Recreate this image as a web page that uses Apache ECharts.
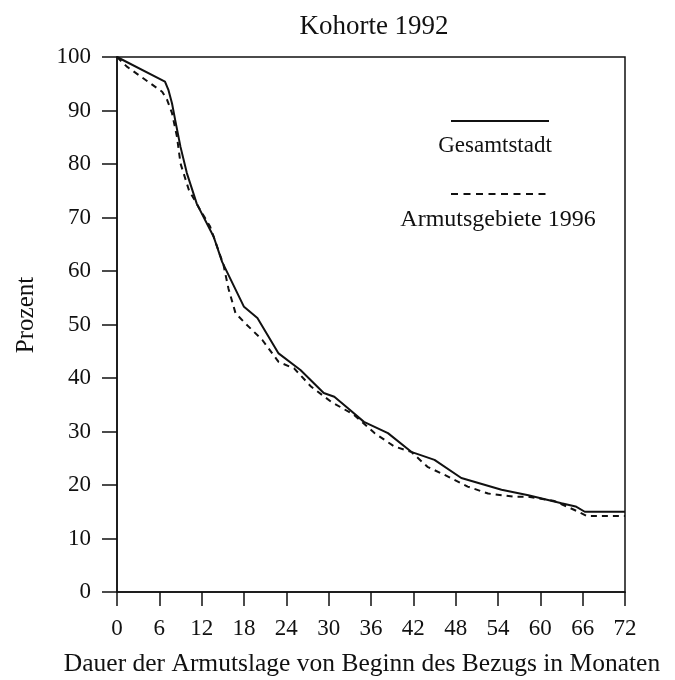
<!DOCTYPE html>
<html>
<head>
<meta charset="utf-8">
<script src="https://cdn.jsdelivr.net/npm/echarts@6/dist/echarts.min.js"></script>
<style>
  html, body { margin: 0; padding: 0; background: #fff; }
  #chart { width: 675px; height: 680px; }
</style>
</head>
<body>
<div id="chart"></div>
<script>
// Gesamtstadt (durchgezogen)
const gesamtMonate = [0, 6.8, 7.3, 7.8, 8.25, 9, 9.9, 11.3, 13.7, 14.9, 18, 19.9, 22.9, 26, 29.3, 30.8, 32.7, 35, 38.4, 41.7, 45, 48.8, 54.5, 58.3, 63, 65, 66.3, 72]
const gesamtWerte = [100, 95.4, 93.8, 91.3, 88.2, 83.2, 78.3, 72.6, 66.4, 61.7, 53.3, 51.2, 44.6, 41.5, 37.2, 36.5, 34.4, 31.8, 29.7, 26.2, 24.7, 21.3, 19.1, 18.1, 16.6, 16, 15, 15]
// Armutsgebiete 1996 (gestrichelt)
const armutMonate = [0, 1.4, 6.4, 7.1, 7.8, 8.5, 9, 10.2, 11.8, 13.2, 15.1, 15.8, 16.8, 18.2, 20.6, 22.9, 25.1, 27.5, 30.3, 33.6, 36.5, 39.3, 41.7, 44, 46.4, 49.7, 52.6, 56.4, 58.3, 62, 65.4, 66.6, 72]
const armutWerte = [100, 98.2, 93.5, 92, 89.5, 85.1, 80.1, 75.1, 71.4, 68.3, 61.1, 56.7, 52.1, 50.2, 47.1, 43, 41.8, 38.4, 35.6, 33.1, 29.7, 27.2, 26.2, 23.4, 21.9, 19.7, 18.4, 17.8, 17.8, 17, 15, 14.2, 14.2]

const font = '"Liberation Serif", "DejaVu Serif", serif'

const chart = echarts.init(document.getElementById('chart'))
const option = {
  animation: false,
  title: {
    text: 'Kohorte 1992',
    left: 369,
    textAlign: 'center',
    top: 8,
    textStyle: { fontFamily: font, fontSize: 27, fontWeight: 'normal', color: '#111' }
  },
  grid: {
    left: 117,
    right: 50,
    top: 57,
    bottom: 88,
    show: true,
    borderColor: '#111',
    borderWidth: 1.5
  },
  xAxis: {
    type: 'value',
    min: 0,
    max: 72,
    interval: 6,
    splitLine: { show: false },
    axisLine: { lineStyle: { color: '#111', width: 1.5 } },
    axisTick: { inside: false, length: 14, lineStyle: { color: '#111', width: 1.5 } },
    axisLabel: { fontFamily: font, fontSize: 23, color: '#111', margin: 25 }
  },
  yAxis: {
    type: 'value',
    min: 0,
    max: 100,
    interval: 10,
    splitLine: { show: false },
    axisLine: { show: true, lineStyle: { color: '#111', width: 1.5 } },
    axisTick: { show: true, length: 15, lineStyle: { color: '#111', width: 1.5 } },
    axisLabel: { fontFamily: font, fontSize: 23, color: '#111', margin: 26 }
  },
  graphic: [
    {
      type: 'text',
      rotation: Math.PI / 2,
      style: { text: 'Prozent', font: '25px ' + font, fill: '#111', textAlign: 'center', textVerticalAlign: 'middle' },
      x: 26,
      y: 315
    },
    {
      type: 'text',
      style: { text: 'Dauer der Armutslage von Beginn des Bezugs in Monaten', font: '25.5px ' + font, fill: '#111', textAlign: 'center', textVerticalAlign: 'middle' },
      x: 362,
      y: 664
    },
    { type: 'line', shape: { x1: 451, y1: 121, x2: 549, y2: 121 }, style: { stroke: '#111', lineWidth: 1.8 } },
    {
      type: 'text',
      style: { text: 'Gesamtstadt', font: '23px ' + font, fill: '#111', textAlign: 'center', textVerticalAlign: 'middle' },
      x: 495,
      y: 146
    },
    { type: 'line', shape: { x1: 451, y1: 194, x2: 550, y2: 194 }, style: { stroke: '#111', lineWidth: 1.8, lineDash: [7, 5.5] } },
    {
      type: 'text',
      style: { text: 'Armutsgebiete 1996', font: '24px ' + font, fill: '#111', textAlign: 'center', textVerticalAlign: 'middle' },
      x: 498,
      y: 220
    }
  ],
  series: [
    {
      name: 'Gesamtstadt',
      type: 'line',
      symbol: 'none',
      lineStyle: { color: '#111', width: 2 },
      data: gesamtMonate.map((m, i) => [m, gesamtWerte[i]])
    },
    {
      name: 'Armutsgebiete 1996',
      type: 'line',
      symbol: 'none',
      lineStyle: { color: '#111', width: 2, type: [6, 5] },
      data: armutMonate.map((m, i) => [m, armutWerte[i]])
    }
  ]
}
chart.setOption(option)
</script>
</body>
</html>
